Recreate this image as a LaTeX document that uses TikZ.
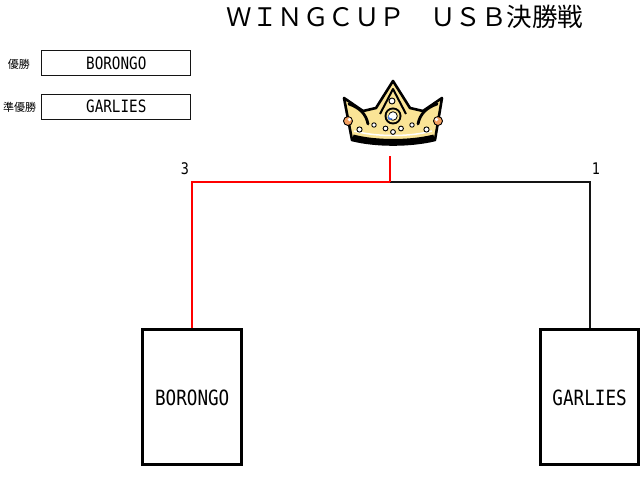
\documentclass[tikz,border=0pt]{standalone}
\usepackage{fontspec}
\newfontfamily\jpfont{Noto Sans CJK JP}
\newfontfamily\narrowmono{DejaVu Sans Mono}[FakeStretch=0.84]
\definecolor{crowncream}{RGB}{250,228,150}
\definecolor{gemorange}{RGB}{245,160,95}
\definecolor{gemblue}{RGB}{70,120,220}
\definecolor{linegray}{RGB}{20,20,20}
\begin{document}
\begin{tikzpicture}[x=1pt,y=-1pt,
  teambox/.style={draw=black,line width=3pt,rectangle,inner sep=0pt,
    minimum width=98.5pt,minimum height=135pt,
    font=\narrowmono\fontsize{21}{24}\selectfont},
  resultbox/.style={draw=linegray,line width=1.2pt,rectangle,inner sep=0pt,
    minimum width=149pt,minimum height=25pt,
    font=\narrowmono\fontsize{17}{20}\selectfont},
  ranklabel/.style={font=\jpfont\fontsize{11}{13}\selectfont,inner sep=0pt},
  score/.style={font=\narrowmono\fontsize{16}{18}\selectfont,inner sep=0pt},
  winline/.style={draw=red,line width=2.2pt},
  loseline/.style={draw=linegray,line width=2.2pt},
  pearl/.style={fill=white,draw=black,line width=0.9pt}]
\useasboundingbox (0,0) rectangle (641,478);
\fill[white] (0,0) rectangle (641,478);

% title
\node[font=\jpfont\fontsize{25.5}{28}\selectfont,inner sep=0pt] (title) at (405,17)
  {ＷＩＮＧＣＵＰ　ＵＳＢ決勝戦};

% result table
\node[ranklabel] (lwin) at (19,64) {優勝};
\node[resultbox] (rwin) at (116.3,63.2) {BORONGO};
\node[ranklabel] (lsecond) at (19.5,107) {準優勝};
\node[resultbox] (rsecond) at (116.3,106.7) {GARLIES};

% crown
\begin{scope}
  \fill[crowncream,draw=black,line width=2.6pt,line join=round]
    (352,140) -- (344,98) -- (363,111) -- (376,108) -- (393,81) -- (410,108)
    -- (423,111) -- (442,98) -- (435,140) .. controls (410,146) and (376,146) .. (352,140) -- cycle;
  % inner strokes
  \draw[black,line width=2.8pt,line cap=round]
    (349,104) .. controls (360,108) and (366,114) .. (368,124);
  \draw[black,line width=2.8pt,line cap=round]
    (437,104) .. controls (426,108) and (420,114) .. (418,124);
  \draw[black,line width=2pt,line join=round]
    (380,114) -- (393,89) -- (406,114);
  \draw[white,line width=1.5pt]
    (354,131) .. controls (376,137) and (410,137) .. (432,131);
  \draw[black,line width=5pt]
    (353,137) .. controls (376,143) and (410,143) .. (434,137);
  % gems
  \fill[black] (393,116) circle (8.5);
  \fill[crowncream] (393,116) circle (6.5);
  \fill[white,draw=black,line width=0.8pt] (393,116) circle (4.3);
  \fill[gemblue] (390,117.5) circle (2.5);
  \fill[white] (391.2,116) circle (2.3);
  \fill[gemorange,draw=black,line width=0.9pt] (348,121) circle (4.5);
  \fill[white] (349.5,119.5) circle (1.8);
  \fill[gemorange,draw=black,line width=0.9pt] (438,121) circle (4.5);
  \fill[white] (436.5,119.5) circle (1.8);
  \path[pearl] (392,101) circle (3);
  \path[pearl] (359.5,129.5) circle (2.6);
  \path[pearl] (426.5,129.5) circle (2.6);
  \path[pearl] (385.5,128.5) circle (2.4);
  \path[pearl] (393,132) circle (2.4);
  \path[pearl] (401,128.5) circle (2.4);
  \path[pearl] (374,125) circle (2.2);
  \path[pearl] (412,125) circle (2.2);
\end{scope}
\coordinate (crownfoot) at (390,156);
\coordinate (join) at (390,182);

% teams
\node[teambox] (teamL) at (192.2,397.4) {BORONGO};
\node[teambox] (teamR) at (589.6,397.4) {GARLIES};

% scores
\node[score] (scoreL) at (185,169) {3};
\node[score] (scoreR) at (596,169) {1};

% bracket
\draw[loseline] (join) -| (teamR.north);
\draw[winline,line join=miter] (teamL.north) |- (join);
\draw[winline] (join) -- (crownfoot);
\end{tikzpicture}
\end{document}
